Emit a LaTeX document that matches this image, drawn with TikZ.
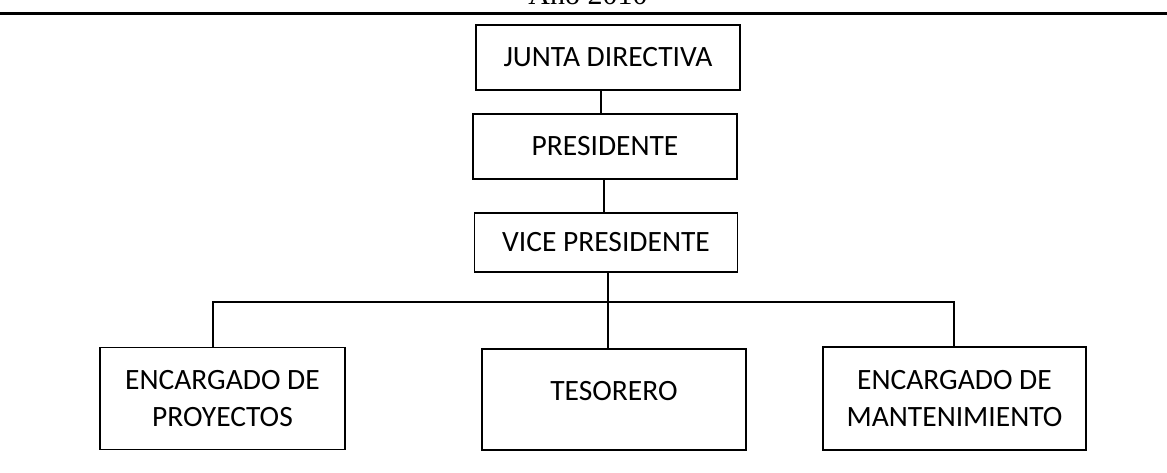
\documentclass[tikz,border=0pt]{standalone}
\usepackage{fontspec}
\setmainfont{Carlito}
\newfontfamily\headfont{Liberation Serif}
\begin{document}
\begin{tikzpicture}[x=1pt,y=-1pt,
  boxfont/.style={font=\fontsize{29.5}{37}\selectfont},
  box/.style={draw=black, line width=1.8pt, rectangle, align=center, inner sep=0pt, boxfont},
  conn/.style={draw=black, line width=1.3pt},
  rule/.style={draw=black, line width=3pt}]
\useasboundingbox (0,0) rectangle (1167,472);
\begin{scope}
\clip (0,0) rectangle (1167,472);
\node[anchor=base, font=\headfont\fontsize{30}{36}\selectfont, inner sep=0pt] (anio) at (588,4.5) {Año 2010};
\end{scope}
\coordinate (rl) at (0,13);
\coordinate (rr) at (1167,13);
\draw[rule] (rl) -- (rr);

\node[box, minimum width=264pt, minimum height=65pt] (junta) at (608,57.5) {JUNTA DIRECTIVA};
\node[box, minimum width=264pt, minimum height=65pt] (pres) at (605,146.5) {PRESIDENTE};
\node[box, minimum width=263pt, minimum height=59pt] (vice) at (606,242.5) {VICE PRESIDENTE};
\node[box, minimum width=245pt, minimum height=102pt] (proy) at (222.5,398.5) {ENCARGADO DE\\PROYECTOS};
\node[box, minimum width=264pt, minimum height=101pt,
  label={[boxfont, inner sep=0pt, yshift=8pt]center:TESORERO}] (tes) at (614,399.5) {};
\node[box, minimum width=263pt, minimum height=103pt] (mant) at (954.5,398.5) {ENCARGADO DE\\MANTENIMIENTO};

\coordinate (bl) at (213,302);
\coordinate (br) at (954,302);
\coordinate (bm) at (608,302);

\draw[conn] ([xshift=-4pt]pres.north) -- ([xshift=-4pt]pres.north |- junta.south);
\draw[conn] ([xshift=-2pt]vice.north) -- ([xshift=-2pt]vice.north |- pres.south);
\draw[conn] (bm |- vice.south) -- (bm |- tes.north);
\draw[conn] (bl |- proy.north) -- (bl) -- (br) -- (br |- mant.north);
\end{tikzpicture}
\end{document}
